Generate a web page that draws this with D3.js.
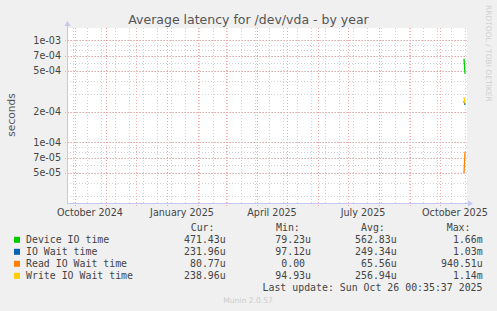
<!DOCTYPE html>
<html>
<head>
<meta charset="utf-8">
<script src="https://cdn.jsdelivr.net/npm/d3@7"></script>
<style>
  body { margin: 0; background: #f0f0f0; }
  svg { display: block; }
  text { white-space: pre; }
</style>
</head>
<body>
<div id="chart"></div>
<script>
// Dữ liệu (munin, đồ thị theo năm)
var seriesNames = ["Device IO time", "IO Wait time", "Read IO Wait time", "Write IO Wait time"];
var seriesColors = ["#00cc00", "#0066b3", "#ff8000", "#ffcc00"];
var sampleDates = ["2025-10-25", "2025-10-26"];
var deviceIO = [6.6e-4, 4.71e-4];
var ioWait = [2.54e-4, 2.32e-4];
var readWait = [5.0e-5, 8.08e-5];
var writeWait = [2.76e-4, 2.39e-4];
var curCol = ["471.43u", "231.96u", " 80.77u", "238.96u"];
var minCol = ["79.23u", "97.12u", "0.00\u00a0", "94.93u"];
var avgCol = ["562.83u", "249.34u", "65.56u", "256.94u"];
var maxCol = ["1.66m", "1.03m", "940.51u", "1.14m"];
var yLabels = [1e-3, 7e-4, 5e-4, 2e-4, 1e-4, 7e-5, 5e-5];
var startDate = "2024-09-23", endDate = "2025-10-28";

var width = 497, height = 311;
var pLeft = 67, pRight = 467, pTop = 28, pBottom = 203;

var svg = d3.select("#chart").append("svg")
    .attr("width", width)
    .attr("height", height);

svg.append("rect").attr("width", width).attr("height", height).attr("fill", "#f0f0f0");
svg.append("rect")
    .attr("x", pLeft).attr("y", pTop)
    .attr("width", pRight - pLeft).attr("height", pBottom - pTop)
    .attr("fill", "#ffffff");

var x = d3.scaleUtc()
    .domain([new Date(startDate), new Date(endDate)])
    .range([pLeft, pRight]);

var y = d3.scaleLog()
    .domain([2.54e-5, 1.32e-3])
    .range([pBottom, pTop]);

// Lưới phụ trục y: 1..9 x mỗi thập phân
var minorY = [];
[1e-5, 1e-4, 1e-3].forEach(function(dec) {
    for (var k = 1; k <= 9; k++) {
        var v = k * dec;
        if (v >= y.domain()[0] && v <= y.domain()[1]) minorY.push(v);
    }
});

var grid = svg.append("g");
var minorColor = "#d2d2d2", majorColor = "#f0a8a8";

grid.selectAll(".hminor")
    .data(minorY)
    .enter().append("line")
    .attr("x1", pLeft).attr("x2", pRight)
    .attr("y1", function(d) { return Math.round(y(d)) + 0.5; })
    .attr("y2", function(d) { return Math.round(y(d)) + 0.5; })
    .attr("stroke", minorColor)
    .attr("stroke-dasharray", "1,2");

// Lưới phụ trục x: mỗi 2 tuần (chủ nhật)
var sundays = d3.utcSunday.range(x.domain()[0], x.domain()[1]).filter(function(d, i) { return i % 2 == 0; });
grid.selectAll(".vminor")
    .data(sundays)
    .enter().append("line")
    .attr("x1", function(d) { return Math.round(x(d)) + 0.5; })
    .attr("x2", function(d) { return Math.round(x(d)) + 0.5; })
    .attr("y1", pTop).attr("y2", pBottom + 2)
    .attr("stroke", minorColor)
    .attr("stroke-dasharray", "1,2");

var months = d3.utcMonth.range(x.domain()[0], x.domain()[1]);
grid.selectAll(".vmajor")
    .data(months)
    .enter().append("line")
    .attr("x1", function(d) { return Math.round(x(d)) + 0.5; })
    .attr("x2", function(d) { return Math.round(x(d)) + 0.5; })
    .attr("y1", pTop).attr("y2", pBottom + 3)
    .attr("stroke", majorColor)
    .attr("stroke-dasharray", "1,2");

grid.selectAll(".hmajor")
    .data(yLabels)
    .enter().append("line")
    .attr("x1", pLeft - 2).attr("x2", pRight)
    .attr("y1", function(d) { return Math.round(y(d)) + 0.5; })
    .attr("y2", function(d) { return Math.round(y(d)) + 0.5; })
    .attr("stroke", majorColor)
    .attr("stroke-dasharray", "1,2");

// Nhãn trục y
function fmtExp(v) {
    var s = v.toExponential(0);
    return s.replace(/e([+-])(\d)$/, "e$10$2");
}
svg.selectAll(".ylab")
    .data(yLabels)
    .enter().append("text")
    .attr("x", 61)
    .attr("y", function(d) { return y(d) + 3.4; })
    .attr("text-anchor", "end")
    .attr("font-family", "DejaVu Sans")
    .attr("font-size", 9.6)
    .attr("fill", "#444")
    .text(fmtExp);

// Nhãn trục x: theo quý, đặt giữa tháng
var quarters = d3.utcMonth.every(3).range(x.domain()[0], x.domain()[1]);
svg.selectAll(".xlab")
    .data(quarters)
    .enter().append("text")
    .attr("x", function(d) { return x(d3.utcDay.offset(d, 15)); })
    .attr("y", 216)
    .attr("text-anchor", "middle")
    .attr("font-family", "DejaVu Sans")
    .attr("font-size", 9.6)
    .attr("fill", "#444")
    .text(d3.utcFormat("%B %Y"));

// Trục và mũi tên
var axisColor = "#c4c8f0";
svg.append("line").attr("x1", pLeft + 0.5).attr("x2", pLeft + 0.5).attr("y1", pBottom).attr("y2", 25)
    .attr("stroke", axisColor);
svg.append("line").attr("x1", pLeft).attr("x2", 469).attr("y1", pBottom + 0.5).attr("y2", pBottom + 0.5)
    .attr("stroke", axisColor);
svg.append("path").attr("d", "M64.5,26 L67.5,21 L70.5,26 Z").attr("fill", axisColor);
svg.append("path").attr("d", "M468,200.5 L473,203.5 L468,206.5 Z").attr("fill", axisColor);

// Các đường dữ liệu
var allSeries = [deviceIO, ioWait, readWait, writeWait];
var line = d3.line()
    .x(function(d) { return x(d.date); })
    .y(function(d) { return y(d.value); });

allSeries.forEach(function(vals, i) {
    var pts = vals.map(function(v, j) { return { date: new Date(sampleDates[j]), value: v }; });
    svg.append("path")
        .datum(pts)
        .attr("d", line)
        .attr("fill", "none")
        .attr("stroke", seriesColors[i])
        .attr("stroke-width", 1.3);
});

// Tiêu đề
svg.append("text")
    .attr("x", 248.5).attr("y", 24)
    .attr("text-anchor", "middle")
    .attr("font-family", "DejaVu Sans")
    .attr("font-size", 12.5)
    .attr("fill", "#555")
    .text("Average latency for /dev/vda - by year");

svg.append("text")
    .attr("transform", "translate(14.5,115) rotate(-90)")
    .attr("text-anchor", "middle")
    .attr("font-family", "DejaVu Sans")
    .attr("font-size", 10.6)
    .attr("fill", "#555")
    .text("seconds");

svg.append("text")
    .attr("transform", "translate(485.5,5) rotate(90)")
    .attr("text-anchor", "start")
    .attr("font-family", "DejaVu Sans")
    .attr("font-size", 7.5)
    .attr("fill", "#d0d0d0")
    .text("RRDTOOL / TOBI OETIKER");

// Chú giải
var mono = "DejaVu Sans Mono";
var legend = svg.append("g")
    .attr("font-family", mono)
    .attr("font-size", 9.9)
    .attr("fill", "#444");

[["Cur:", 190.7], ["Min:", 276], ["Avg:", 361], ["Max:", 446.7]].forEach(function(h) {
    legend.append("text").attr("x", h[1]).attr("y", 231).text(h[0]);
});

var cols = [[curCol, 225.7], [minCol, 311], [avgCol, 396.7], [maxCol, 482.7]];
seriesNames.forEach(function(name, i) {
    var yy = 243.3 + i * 12;
    legend.append("rect")
        .attr("x", 14).attr("y", yy - 6.5)
        .attr("width", 6).attr("height", 6)
        .attr("fill", seriesColors[i]);
    legend.append("text").attr("x", 26).attr("y", yy).text(name);
    cols.forEach(function(c) {
        legend.append("text")
            .attr("x", c[1]).attr("y", yy)
            .attr("text-anchor", "end")
            .text(c[0][i]);
    });
});

legend.append("text")
    .attr("x", 482.5).attr("y", 291)
    .attr("text-anchor", "end")
    .text("Last update: Sun Oct 26 00:35:37 2025");

svg.append("text")
    .attr("x", 248).attr("y", 303)
    .attr("text-anchor", "middle")
    .attr("font-family", "DejaVu Sans")
    .attr("font-size", 7.6)
    .attr("fill", "#cccccc")
    .text("Munin 2.0.57");
</script>
</body>
</html>
